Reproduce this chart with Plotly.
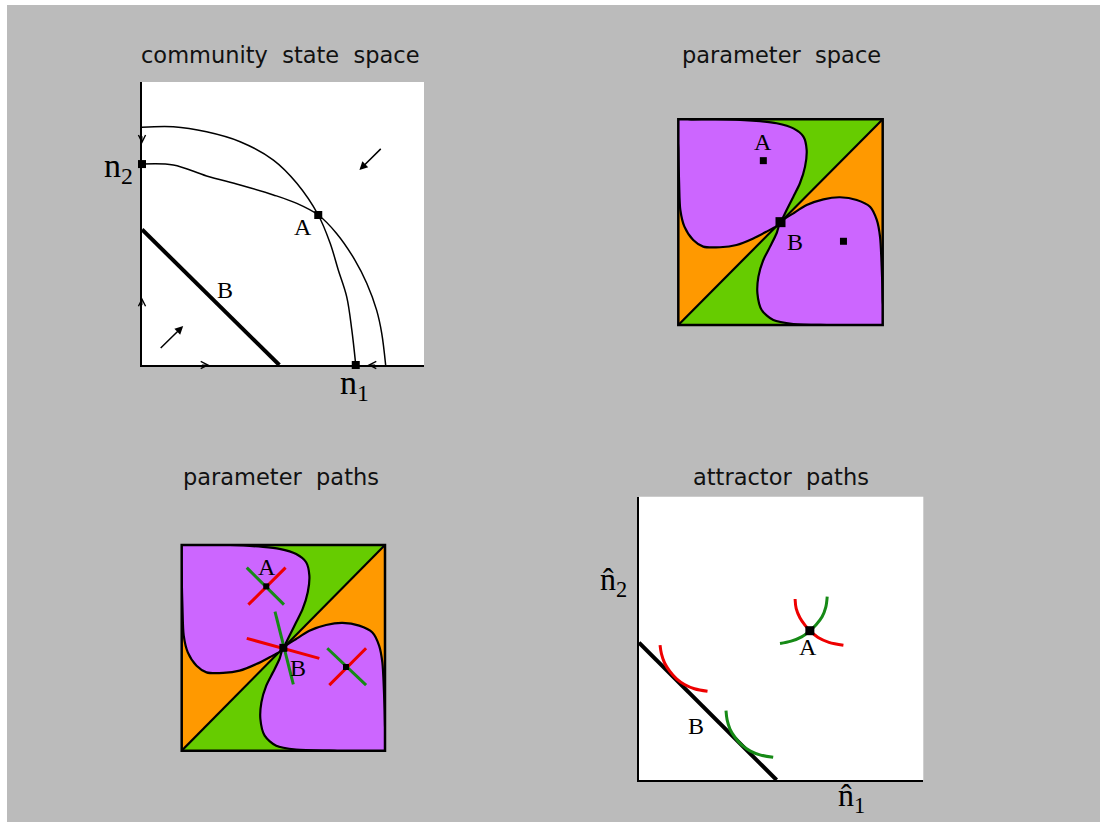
import plotly.graph_objects as go

W, H = 1100, 822

# ---------------------------------------------------------------- data
# community state space (unit square: u = n1, v = n2)
iso1_u = [0.0, 0.111, 0.229, 0.348, 0.466, 0.549, 0.625, 0.667, 0.696, 0.726, 0.744, 0.758]
iso1_v = [0.840, 0.842, 0.824, 0.789, 0.724, 0.642, 0.530, 0.431, 0.336, 0.241, 0.124, 0.0]
iso2_u = [0.0, 0.111, 0.229, 0.348, 0.466, 0.549, 0.625, 0.690, 0.755, 0.797, 0.832, 0.850, 0.864]
iso2_v = [0.710, 0.707, 0.668, 0.636, 0.601, 0.571, 0.530, 0.465, 0.371, 0.289, 0.194, 0.113, 0.0]
lineB_u = [0.0, 0.487]
lineB_v = [0.479, 0.0]
equil_u = [0.0, 0.625, 0.758]
equil_v = [0.710, 0.530, 0.0]
# flow arrows: tail (u, v) -> head (u, v)
flow_tail = [(0.852, 0.769), (0.061, 0.055)]
flow_head = [(0.771, 0.689), (0.146, 0.138)]
# small chevrons on the axes: head position and pointing direction
chevrons = [((0.0, 0.782), "down"), ((0.0, 0.238), "up"),
            ((0.239, 0.0), "right"), ((0.800, 0.0), "left")]

# parameter space: coloured wedges around the centre point B
centre = (0.5, 0.5)
green_wedges = [[(0, 1), (1, 1)], [(0, 0), (1, 0)]]
orange_wedges = [[(0, 1), (0, 0)], [(1, 1), (1, 0)]]
lobeA_u = [0.5, 0.530, 0.563, 0.595, 0.620, 0.628, 0.612, 0.563, 0.481, 0.400, 0.237, 0.073,
           0.0, 0.0, 0.004, 0.010, 0.030, 0.073, 0.122, 0.204, 0.285, 0.367, 0.432, 0.481, 0.5]
lobeA_v = [0.5, 0.559, 0.624, 0.689, 0.770, 0.851, 0.916, 0.956, 0.981, 0.991, 1.0, 1.0,
           1.0, 0.851, 0.689, 0.559, 0.478, 0.413, 0.381, 0.378, 0.389, 0.421, 0.454, 0.481, 0.5]
lobeB_u = [0.5, 0.481, 0.449, 0.416, 0.392, 0.387, 0.408, 0.465, 0.563, 0.726, 1.0, 1.0,
           0.995, 0.987, 0.971, 0.938, 0.873, 0.791, 0.710, 0.628, 0.563, 0.5]
lobeB_v = [0.5, 0.446, 0.381, 0.316, 0.235, 0.154, 0.073, 0.024, 0.005, 0.0, 0.0, 0.122,
           0.284, 0.429, 0.511, 0.575, 0.608, 0.621, 0.611, 0.583, 0.543, 0.5]
param_pts_u = [0.416, 0.808]
param_pts_v = [0.799, 0.407]
labelA_param = (0.416, 0.891)
labelB_param = (0.571, 0.405)

# parameter paths (segments separated by None)
red_path_u = [0.328, 0.511, None, 0.320, 0.677, None, 0.726, 0.907]
red_path_v = [0.710, 0.890, None, 0.546, 0.449, None, 0.319, 0.498]
green_path_u = [0.320, 0.503, None, 0.459, 0.549, None, 0.716, 0.907]
green_path_v = [0.890, 0.710, None, 0.676, 0.323, None, 0.498, 0.319]

# attractor paths
attrB_u = [0.0, 0.484]
attrB_v = [0.485, 0.0]
attrA = (0.601, 0.527)
red_arcs_u = [0.549, 0.553, 0.566, 0.585, 0.601, 0.630, 0.668, 0.719, None,
              0.074, 0.079, 0.090, 0.108, 0.132, 0.160, 0.195, 0.241]
red_arcs_v = [0.639, 0.605, 0.573, 0.545, 0.527, 0.503, 0.486, 0.476, None,
              0.476, 0.445, 0.413, 0.384, 0.357, 0.337, 0.322, 0.313]
green_arcs_u = [0.662, 0.657, 0.644, 0.623, 0.601, 0.572, 0.535, 0.496, None,
                0.306, 0.310, 0.320, 0.338, 0.362, 0.392, 0.428, 0.472]
green_arcs_v = [0.647, 0.610, 0.576, 0.548, 0.527, 0.505, 0.490, 0.482, None,
                0.245, 0.212, 0.180, 0.150, 0.123, 0.102, 0.088, 0.080]

titles = ["community  state  space", "parameter  space", "parameter  paths", "attractor  paths"]

# ---------------------------------------------------------------- layout helpers
# panel boxes in pixels: left, right, top, bottom
BOX = [(142, 424, 82, 365), (678.3, 882.7, 119.3, 325),
       (181.7, 385, 545, 750.7), (639, 923.3, 496.7, 780)]
TITLE_POS = [(280.5, 55), (781.7, 55), (280.8, 477), (780.8, 477)]

GREEN, ORANGE, PURPLE = "#66cc00", "#ff9900", "#cc66ff"
RED, DGREEN = "#ee0000", "#168a16"
SERIF = "Liberation Serif"
SANS = "DejaVu Sans"

fig = go.Figure()
refs = [("x", "y"), ("x2", "y2"), ("x3", "y3"), ("x4", "y4")]


def line(p, u, v, width=1.5, color="black", shape="spline"):
    xr, yr = refs[p]
    fig.add_trace(go.Scatter(x=u, y=v, xaxis=xr, yaxis=yr, mode="lines",
                             line=dict(color=color, width=width, shape=shape),
                             hoverinfo="skip", showlegend=False))


def squares(p, u, v, size):
    xr, yr = refs[p]
    fig.add_trace(go.Scatter(x=u, y=v, xaxis=xr, yaxis=yr, mode="markers",
                             marker=dict(symbol="square", color="black", size=size),
                             cliponaxis=False, hoverinfo="skip", showlegend=False))


def label(p, u, v, text, size=24, font=SERIF):
    # positions are given in the panel's unit square (same as its axis range)
    xr, yr = refs[p]
    fig.add_annotation(x=u, y=v, xref=xr + " domain", yref=yr + " domain", text=text,
                       showarrow=False, xanchor="center", yanchor="middle",
                       font=dict(family=font, size=size, color="black"))


# ---- panel 1: community state space
line(0, iso1_u, iso1_v)
line(0, iso2_u, iso2_v)
line(0, lineB_u, lineB_v, width=4, shape="linear")
squares(0, equil_u, equil_v, 8)
for (tu, tv), (hu, hv) in zip(flow_tail, flow_head):
    fig.add_annotation(x=hu, y=hv, ax=tu, ay=tv, xref="x", yref="y", axref="x", ayref="y",
                       text="", showarrow=True, arrowhead=2, arrowsize=1.1,
                       arrowwidth=1.5, arrowcolor="black")
OFFS = {"down": (0, -9), "up": (0, 9), "right": (-9, 0), "left": (9, 0)}
for (hu, hv), d in chevrons:
    ox, oy = OFFS[d]
    fig.add_annotation(x=hu, y=hv, xref="x", yref="y", ax=ox, ay=oy, text="",
                       showarrow=True, arrowhead=5, arrowsize=1.4, arrowwidth=1,
                       arrowcolor="black")
label(0, 0.572, 0.489, "A")
label(0, 0.294, 0.265, "B")
label(0, -0.085, 0.695, "n<sub>2</sub>", size=34)
label(0, 0.755, -0.072, "n<sub>1</sub>", size=34)

# ---- panels 2 and 3: parameter space with wedges and lobes
for p in (1, 2):
    xr, yr = refs[p]
    for wedges, col in ((green_wedges, GREEN), (orange_wedges, ORANGE)):
        for (a, b) in wedges:
            fig.add_trace(go.Scatter(x=[centre[0], a[0], b[0], centre[0]],
                                     y=[centre[1], a[1], b[1], centre[1]],
                                     xaxis=xr, yaxis=yr, mode="lines", fill="toself",
                                     fillcolor=col, line=dict(width=0, color=col),
                                     hoverinfo="skip", showlegend=False))
    line(p, [0, 1], [0, 1], width=2.2, shape="linear")
    for lu, lv in ((lobeA_u, lobeA_v), (lobeB_u, lobeB_v)):
        fig.add_trace(go.Scatter(x=lu, y=lv, xaxis=xr, yaxis=yr, mode="lines",
                                 fill="toself", fillcolor=PURPLE,
                                 line=dict(color="black", width=2.2, shape="spline",
                                           smoothing=0.8),
                                 hoverinfo="skip", showlegend=False))

# parameter space markers / labels
squares(1, param_pts_u, param_pts_v, 7)
squares(1, [centre[0]], [centre[1]], 10)
label(1, *labelA_param, "A")
label(1, *labelB_param, "B")

# parameter paths crosses
line(2, red_path_u, red_path_v, width=3, color=RED, shape="linear")
line(2, green_path_u, green_path_v, width=3, color=DGREEN, shape="linear")
squares(2, param_pts_u, param_pts_v, 6)
squares(2, [centre[0]], [centre[1]], 8)
label(2, 0.418, 0.895, "A")
label(2, 0.574, 0.400, "B")

# ---- panel 4: attractor paths
line(3, attrB_u, attrB_v, width=4, shape="linear")
line(3, red_arcs_u, red_arcs_v, width=3, color=RED)
line(3, green_arcs_u, green_arcs_v, width=3, color=DGREEN)
squares(3, [attrA[0]], [attrA[1]], 9)
label(3, 0.596, 0.471, "A")
label(3, 0.200, 0.191, "B")
label(3, -0.090, 0.700, "n\u0302<sub>2</sub>", size=32)
label(3, 0.748, -0.062, "n\u0302<sub>1</sub>", size=32)

# ---- titles
for (cx, cy), t in zip(TITLE_POS, titles):
    fig.add_annotation(x=cx / W, y=1 - cy / H, xref="paper", yref="paper",
                       xanchor="center", yanchor="middle",
                       text=t.replace("  ", " \u00a0"), showarrow=False,
                       font=dict(family=SANS, size=22.5, color="#111111"))

# ---- axes
layout_axes = {}
for i, (l, r, t, b) in enumerate(BOX):
    sfx = "" if i == 0 else str(i + 1)
    visible_lines = i in (0, 3)
    common = dict(range=[0, 1], showgrid=False, zeroline=False, showticklabels=False,
                  ticks="", showline=visible_lines, linecolor="black", linewidth=2,
                  fixedrange=True)
    layout_axes["xaxis" + sfx] = dict(domain=[l / W, r / W], anchor="y" + sfx, **common)
    layout_axes["yaxis" + sfx] = dict(domain=[1 - b / H, 1 - t / H], anchor="x" + sfx, **common)

shapes = [
    dict(type="rect", xref="paper", yref="paper", x0=0, x1=7 / W, y0=0, y1=1,
         fillcolor="white", line=dict(width=0), layer="below"),
    dict(type="rect", xref="paper", yref="paper", x0=0, x1=1, y0=1 - 5 / H, y1=1,
         fillcolor="white", line=dict(width=0), layer="below"),
]
for xr, yr in (refs[0], refs[3]):
    shapes.append(dict(type="rect", xref=xr + " domain", yref=yr + " domain",
                       x0=0, x1=1, y0=0, y1=1, fillcolor="white",
                       line=dict(width=0), layer="below"))
for xr, yr in (refs[1], refs[2]):
    shapes.append(dict(type="rect", xref=xr + " domain", yref=yr + " domain",
                       x0=0, x1=1, y0=0, y1=1, fillcolor="rgba(0,0,0,0)",
                       line=dict(width=2.5, color="black"), layer="above"))

fig.update_layout(width=W, height=H, margin=dict(l=0, r=0, t=0, b=0),
                  paper_bgcolor="#bbbbbb", plot_bgcolor="rgba(0,0,0,0)",
                  showlegend=False, shapes=shapes, **layout_axes)

fig.write_html("out.html", config={"displayModeBar": False})
